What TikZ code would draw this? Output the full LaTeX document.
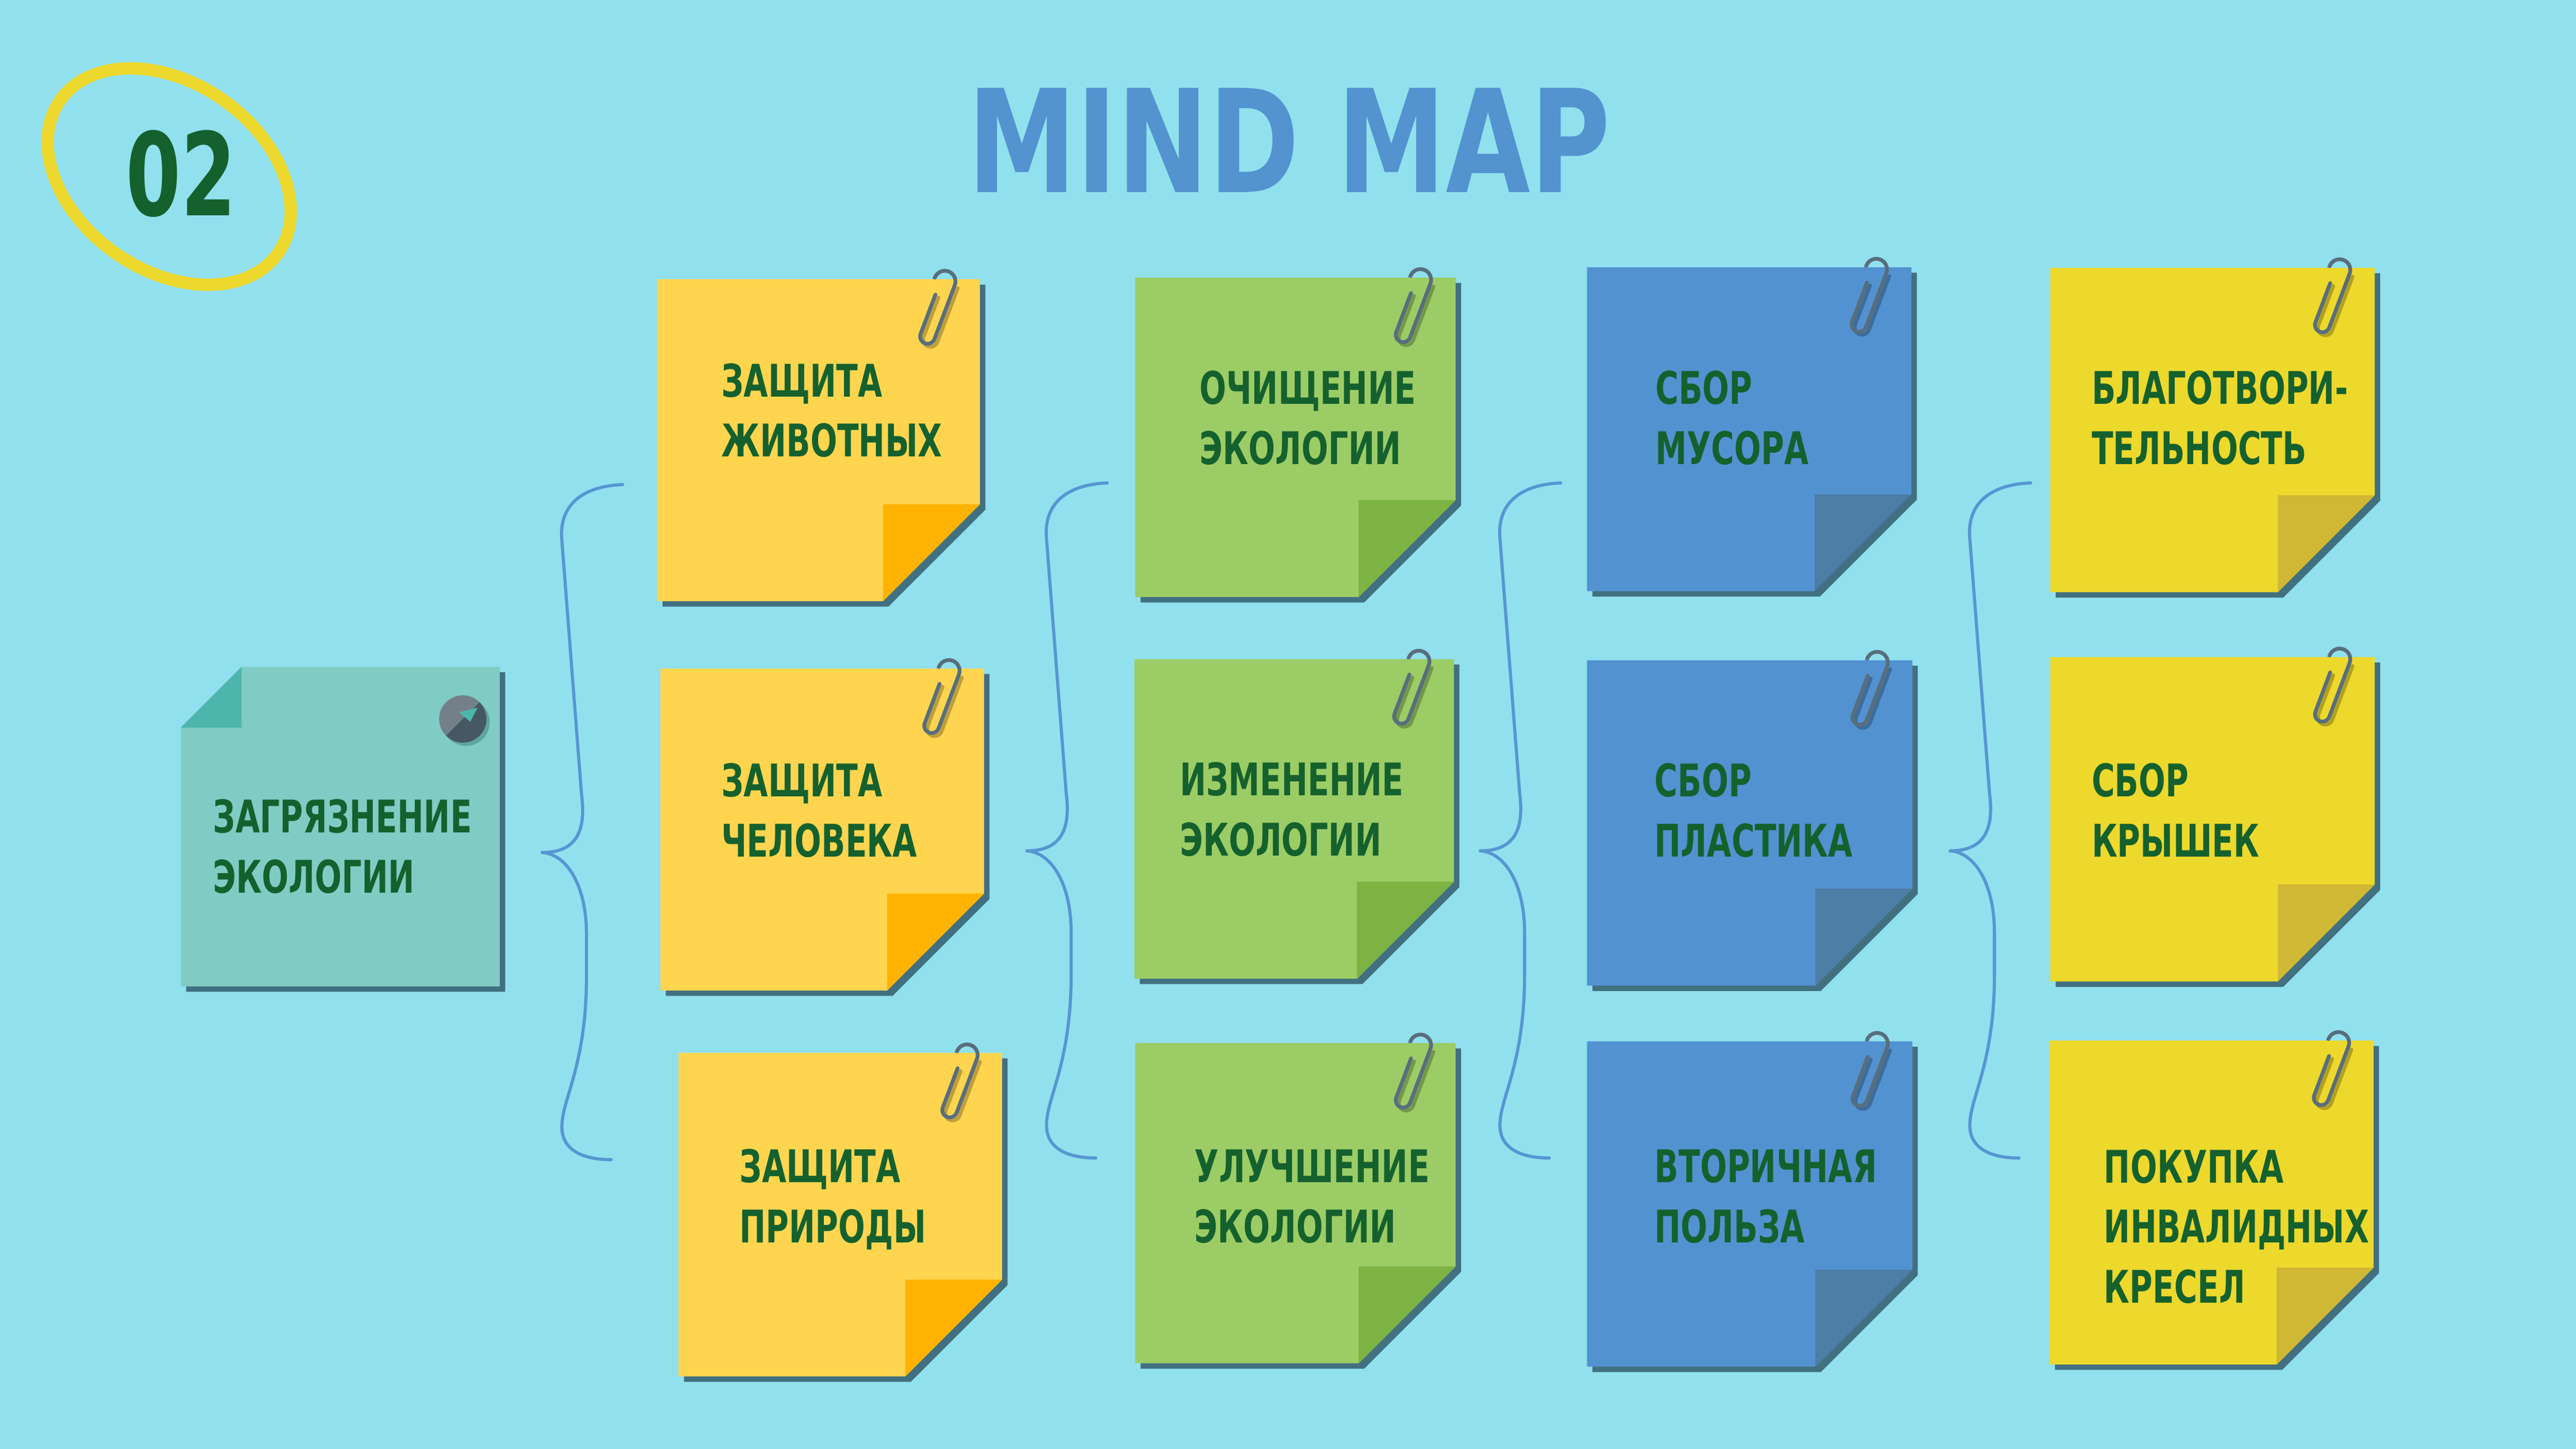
\documentclass[tikz,border=0pt]{standalone}
\usepackage{fontspec}
\usepackage{graphicx}
\setmainfont{DejaVu Sans}
\newfontfamily\labfont{DejaVu Sans}[FakeStretch=0.70]
\definecolor{bg}{RGB}{145,224,238}
\definecolor{shadowc}{RGB}{65,112,128}
\definecolor{yelA}{RGB}{255,213,79}
\definecolor{yelAf}{RGB}{255,179,0}
\definecolor{grn}{RGB}{156,204,101}
\definecolor{grnf}{RGB}{124,179,66}
\definecolor{blu}{RGB}{82,146,208}
\definecolor{bluf}{RGB}{77,126,166}
\definecolor{yelB}{RGB}{237,216,44}
\definecolor{yelBf}{RGB}{208,183,52}
\definecolor{teal}{RGB}{128,203,196}
\definecolor{tealf}{RGB}{77,182,172}
\definecolor{txtgreen}{RGB}{21,97,46}
\definecolor{titleblue}{RGB}{83,147,208}
\definecolor{braceblue}{RGB}{85,150,210}
\definecolor{ringyellow}{RGB}{237,217,45}
\definecolor{clipdark}{RGB}{88,110,125}
\definecolor{cliplight}{RGB}{105,172,197}
\definecolor{pinlight}{RGB}{115,128,137}
\definecolor{pindark}{RGB}{69,88,99}
\definecolor{pinshadow}{RGB}{95,165,160}
\tikzset{
  notetext/.style={anchor=base west, inner sep=0, text=txtgreen,
    font=\labfont\bfseries\fontsize{27.4}{36.6}\selectfont},
  bracestyle/.style={draw=braceblue, line width=1.9, line cap=round, line join=round},
  wire/.style={line width=2.3, line cap=round, line join=round},
  noteframe/.style={inner sep=0, anchor=north west}
}
\newcommand\clipback[2]{%
  \begin{scope}[shift={({#1},{#2})}, rotate=-20.7, y=1pt]
    \draw[wire, cliplight] (-8.5,18) -- (-8.5,39.5);
  \end{scope}}
\newcommand\clipfront[2]{%
  \begin{scope}[shift={({#1+1.8},{#2+1.8})}, rotate=-20.7, y=1pt]
    \draw[wire, black, opacity=.25] (4.5,39.5) -- (4.5,4.5)
      arc[start angle=0, end angle=-180, radius=4.5] -- (-4.5,30);
  \end{scope}
  \begin{scope}[shift={({#1},{#2})}, rotate=-20.7, y=1pt]
    \draw[wire, clipdark] (-8.5,39.5) arc[start angle=180, end angle=0, radius=6.5]
      -- (4.5,4.5) arc[start angle=0, end angle=-180, radius=4.5] -- (-4.5,30);
  \end{scope}}
% #1 name, #2 x, #3 y, #4 w, #5 h, #6 fill, #7 fold
\newcommand\stickynote[7]{%
  \fill[shadowc] ({#2+3.3},{#3+3.3}) -- ++(#4,0) -- ++(0,{#5-59}) -- ++(-59,59) -- ++({59-#4},0) -- cycle;
  \clipback{#2+#4-33.5}{#3+39}
  \fill[#6] (#2,#3) -- ++(#4,0) -- ++(0,{#5-59}) -- ++(-59,59) -- ++({59-#4},0) -- cycle;
  \fill[#7] ({#2+#4-59},{#3+#5-59}) -- ++(59,0) -- ++(-59,59) -- cycle;
  \node[noteframe, minimum width=#4, minimum height=#5] (#1) at (#2,#3) {};
  \clipfront{#2+#4-33.5}{#3+39}}
\newcommand\notetext[4]{%
  \node[notetext] (#1) at (#2,#3) {\begin{tabular}[t]{@{}l@{}}#4\end{tabular}};}
\newcommand\mybrace[3]{%
  \coordinate (#1) at (#2,#3);
  \draw[bracestyle, shift={(#1)}] (49,-224) .. controls (25,-223) and (10,-212) .. (12,-190)
    -- (24,-35) .. controls (27,-12) and (20,0) .. (0,0)
    .. controls (15,1) and (27,20) .. (27,50) -- (27,75)
    .. controls (27,130) and (12,150) .. (12,167)
    .. controls (12,183) and (28,187) .. (42,187);}
\begin{document}
\begin{tikzpicture}[x=1pt, y=-1pt]
\useasboundingbox (0,0) rectangle (1568,882);
\fill[bg] (0,0) rectangle (1568,882);

% badge
\draw[ringyellow, line width=7.5, rotate around={-35:(103,107.5)}] (103,107.5) ellipse [x radius=81, y radius=57];
\node[anchor=base west, inner sep=0, text=txtgreen] (num) at (76.4,131.3) {\resizebox{67pt}{52pt}{\bfseries 02}};

% title
\node[anchor=base west, inner sep=0, text=titleblue] (title) at (589,117) {\resizebox{391pt}{63.5pt}{\bfseries MIND MAP}};

% braces
\mybrace{br1}{330}{519}
\mybrace{br2}{625}{518}
\mybrace{br3}{901}{518}
\mybrace{br4}{1187}{518}

% root note
\fill[shadowc] (113.3,446.3) -- (150.3,409.3) -- (307.5,409.3) -- (307.5,603.8) -- (113.3,603.8) -- cycle;
\fill[teal] (110,443) -- (147,406) -- (304.2,406) -- (304.2,600.5) -- (110,600.5) -- cycle;
\fill[tealf] (110,443) -- (147,406) -- (147,443) -- cycle;
\node[noteframe, minimum width=194.2, minimum height=194.5] (root) at (110,406) {};
\fill[pinshadow] (283.7,439.7) circle (14.4);
\fill[pinlight] (281.7,437.7) circle (14.4);
\begin{scope}
  \clip (281.7,437.7) circle (14.4);
  \fill[pindark] (311.7,407.7) -- (251.7,467.7) -- (320,470) -- (320,400) -- cycle;
\end{scope}
\fill[tealf] (279.5,433.7) -- (290.7,430.8) -- (286.2,439.4) -- cycle;
\notetext{troot}{129.5}{507}{ЗАГРЯЗНЕНИЕ\\ЭКОЛОГИИ}

% column 1
\stickynote{a1}{400}{170}{196.5}{196}{yelA}{yelAf}
\stickynote{a2}{402}{407}{197}{196}{yelA}{yelAf}
\stickynote{a3}{413}{641}{197}{197}{yelA}{yelAf}
\notetext{ta1}{439}{241.5}{ЗАЩИТА\\ЖИВОТНЫХ}
\notetext{ta2}{439}{485}{ЗАЩИТА\\ЧЕЛОВЕКА}
\notetext{ta3}{450}{720}{ЗАЩИТА\\ПРИРОДЫ}

% column 2
\stickynote{b1}{691}{169}{195}{194.5}{grn}{grnf}
\stickynote{b2}{690.5}{401.3}{194.5}{194.5}{grn}{grnf}
\stickynote{b3}{691}{635}{195}{195}{grn}{grnf}
\notetext{tb1}{730}{246}{ОЧИЩЕНИЕ\\ЭКОЛОГИИ}
\notetext{tb2}{718}{484.5}{ИЗМЕНЕНИЕ\\ЭКОЛОГИИ}
\notetext{tb3}{727}{720}{УЛУЧШЕНИЕ\\ЭКОЛОГИИ}

% column 3
\stickynote{c1}{966}{162.7}{197.5}{197.2}{blu}{bluf}
\stickynote{c2}{966}{402}{198}{198}{blu}{bluf}
\stickynote{c3}{966}{634}{198}{198}{blu}{bluf}
\notetext{tc1}{1007.5}{246}{СБОР\\МУСОРА}
\notetext{tc2}{1007}{485}{СБОР\\ПЛАСТИКА}
\notetext{tc3}{1007}{720}{ВТОРИЧНАЯ\\ПОЛЬЗА}

% column 4
\stickynote{d1}{1248}{163}{197.5}{197.5}{yelB}{yelBf}
\stickynote{d2}{1248}{400}{197.5}{197.5}{yelB}{yelBf}
\stickynote{d3}{1247.5}{633.5}{197.3}{197.2}{yelB}{yelBf}
\notetext{td1}{1273}{246}{БЛАГОТВОРИ-\\ТЕЛЬНОСТЬ}
\notetext{td2}{1273}{485}{СБОР\\КРЫШЕК}
\notetext{td3}{1280.5}{720.1}{ПОКУПКА\\ИНВАЛИДНЫХ\\КРЕСЕЛ}
\end{tikzpicture}
\end{document}
